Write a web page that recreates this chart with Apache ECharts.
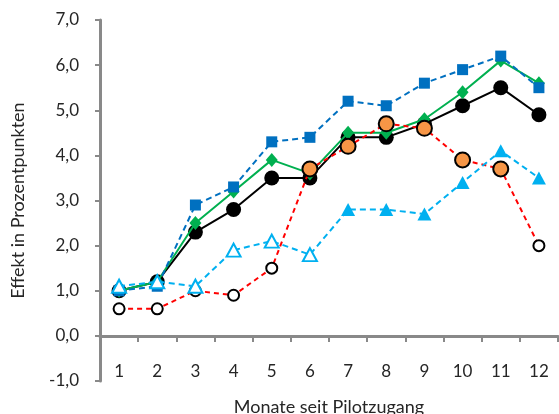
<!DOCTYPE html>
<html><head><meta charset="utf-8">
<script src="https://cdn.jsdelivr.net/npm/echarts@6/dist/echarts.min.js"></script>
<style>html,body{margin:0;padding:0;background:#fff}#c{width:559px;height:414px}</style>
</head><body><div id="c"></div>
<script>
const months = ['1','2','3','4','5','6','7','8','9','10','11','12'];
const yTicks = [-1,0,1,2,3,4,5,6,7];
const blueSquares = [1.0,1.1,2.9,3.3,4.3,4.4,5.2,5.1,5.6,5.9,6.2,5.5];
const greenDiamonds = [1.0,1.2,2.5,3.2,3.9,3.6,4.5,4.5,4.8,5.4,6.1,5.6];
const blackCircles = [1.0,1.2,2.3,2.8,3.5,3.5,4.4,4.4,4.7,5.1,5.5,4.9];
const redCircles = [0.6,0.6,1.0,0.9,1.5,3.7,4.2,4.7,4.6,3.9,3.7,2.0];
const redFilled = [false,false,false,false,false,true,true,true,true,true,true,false];
const cyanTriangles = [1.1,1.2,1.1,1.9,2.1,1.8,2.8,2.8,2.7,3.4,4.1,3.5];
const cyanFilled = [false,false,false,false,false,false,true,true,true,true,true,true];

const FONT = 'Lato';
const chart = echarts.init(document.getElementById('c'), null, {renderer:'canvas'});
const axisGray = '#898989';
chart.setOption({
  animation:false,
  grid:{left:100,right:1,top:20,bottom:33,containLabel:false,outerBoundsMode:'none'},
  xAxis:{
    type:'category', data:months, boundaryGap:true, position:'bottom', offset:0,
    axisLine:{onZero:false,lineStyle:{color:axisGray,width:3}},
    axisTick:{show:true,length:6,lineStyle:{color:axisGray,width:2}},
    axisLabel:{margin:27,color:'#262626',fontSize:17,fontFamily:FONT},
    name:'Monate seit Pilotzugang', nameLocation:'middle', nameGap:62,
    nameTextStyle:{color:'#262626',fontSize:18,fontFamily:FONT},
    splitLine:{show:false}
  },
  yAxis:{
    type:'value', min:yTicks[0], max:yTicks[yTicks.length-1], interval:1,
    axisLine:{show:true,lineStyle:{color:axisGray,width:3}},
    axisTick:{show:true,length:5,lineStyle:{color:axisGray,width:2}},
    axisLabel:{margin:21,color:'#262626',fontSize:17,fontFamily:FONT,
      formatter:v=>v.toFixed(1).replace('.',',')},
    splitLine:{show:false},
    name:'Effekt in Prozentpunkten', nameLocation:'middle', nameGap:73, nameRotate:90,
    nameTextStyle:{color:'#262626',fontSize:18,fontFamily:FONT}
  },
  series:[
    {type:'line',data:blackCircles,symbol:'circle',symbolSize:15,z:2,
      lineStyle:{color:'#000',width:2},itemStyle:{color:'#000',borderWidth:0}},
    {type:'line',data:greenDiamonds,symbol:'diamond',symbolSize:[12,14],z:3,
      lineStyle:{color:'#00B050',width:2},itemStyle:{color:'#00B050',borderWidth:0}},
    {type:'line',data:blueSquares,symbol:'rect',symbolSize:11,z:4,
      lineStyle:{color:'#0070C0',width:2,type:[6,4]},itemStyle:{color:'#0070C0',borderWidth:0}},
    {type:'line',z:5,
      data:redCircles.map((v,i)=>({value:v,
        symbolSize: redFilled[i]?15:11,
        itemStyle: redFilled[i]?{color:'#F79646',borderColor:'#000',borderWidth:2}
                              :{color:'#fff',borderColor:'#000',borderWidth:2}})),
      symbol:'circle',
      lineStyle:{color:'#FF0000',width:2,type:[5,4]}},
    {type:'line',z:6,
      data:cyanTriangles.map((v,i)=>({value:v,
        itemStyle: cyanFilled[i]?{color:'#00B0F0',borderWidth:0}
                               :{color:'#fff',borderColor:'#00B0F0',borderWidth:2}})),
      symbol:'triangle',symbolSize:[14,13],
      lineStyle:{color:'#00B0F0',width:2,type:[6,4]}}
  ]
});
// move the category axis up to the zero line, computed from the value scale
const yZero = chart.convertToPixel({yAxisIndex:0}, 0);
const yBottom = chart.convertToPixel({yAxisIndex:0}, yTicks[0]);
chart.setOption({xAxis:{offset:-(yBottom - yZero)}});
</script></body></html>
